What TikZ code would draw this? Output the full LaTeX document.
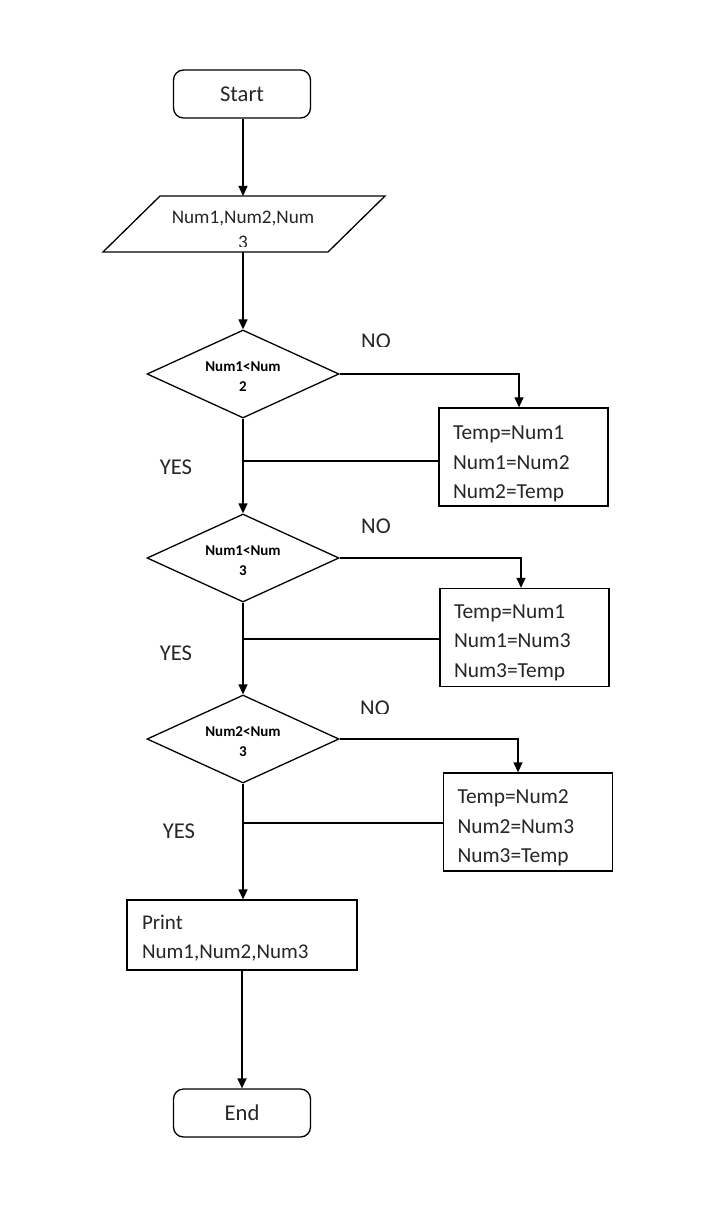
\documentclass[tikz,border=0pt]{standalone}
\usepackage{fontspec}
\setmainfont{Carlito}
\usetikzlibrary{shapes.geometric,arrows.meta}
\begin{document}
\begin{tikzpicture}[x=0.5pt,y=-0.5pt,
  line width=0.65pt,
  every node/.append style={text=black!85},
  term/.style={draw, rounded corners=5pt, minimum width=68.5pt, minimum height=24pt, font=\fontsize{11.3}{13}\selectfont},
  dec/.style={draw, diamond, minimum width=96pt, minimum height=44pt, inner sep=0pt, shape aspect=2.2},
  dtext/.style={inner sep=0pt, align=center, text=black, font=\bfseries\fontsize{7.5}{10}\selectfont},
  proc/.style={draw, rectangle, minimum width=84.5pt, minimum height=49pt},
  ptext/.style={anchor=west, inner sep=0pt, align=left, font=\fontsize{10.7}{14.75}\selectfont},
  lbl/.style={font=\fontsize{11.3}{13}\selectfont},
  arr/.style={-{Triangle[length=5pt,width=4.5pt]}}
]
\fill[white] (0,0) rectangle (720,1229);
\useasboundingbox (0,0) rectangle (720,1229);

% terminals
\node[term] (start) at (242,94) {Start};
\node[term] (end) at (242,1113) {End};

% input parallelogram
\draw (160,196) -- (385,196) -- (328,252) -- (103,252) -- cycle;
\coordinate (inT) at (243,196);
\coordinate (inB) at (243,252);
\node[font=\fontsize{9.6}{12}\selectfont] (intext) at (243,219) {Num1,Num2,Num};
\begin{scope}
  \clip (200,230) rectangle (290,247);
  \node[font=\fontsize{9.6}{12}\selectfont] (intext3) at (243,242) {3};
\end{scope}

% decisions
\node[dec] (d1) at (243,374) {};
\node[dtext] (d1t) at (243,377) {Num1<Num\\2};
\node[dec] (d2) at (243,558) {};
\node[dtext] (d2t) at (243,561) {Num1<Num\\3};
\node[dec] (d3) at (243,739) {};
\node[dtext] (d3t) at (243,742) {Num2<Num\\3};

% processes
\node[proc] (b1) at (523.5,457) {};
\node[ptext] (b1t) at ([xshift=7pt,yshift=-3.5pt]b1.west) {Temp=Num1\\Num1=Num2\\Num2=Temp};
\node[proc] (b2) at (524.5,637.5) {};
\node[ptext] (b2t) at ([xshift=7pt,yshift=-2.5pt]b2.west) {Temp=Num1\\Num1=Num3\\Num3=Temp};
\node[proc] (b3) at (528,822) {};
\node[ptext] (b3t) at ([xshift=7pt,yshift=-3pt]b3.west) {Temp=Num2\\Num2=Num3\\Num3=Temp};

\node[draw, rectangle, minimum width=115pt, minimum height=35pt] (pr) at (242,935) {};
\node[ptext, font=\fontsize{10.5}{14.5}\selectfont] (prt) at ([xshift=7.5pt,yshift=-1.5pt]pr.west) {Print\\Num1,Num2,Num3};

% labels
\begin{scope}
  \clip (340,320) rectangle (420,346.5);
  \node[lbl] (no1) at (376,341) {NO};
\end{scope}
\begin{scope}
  \clip (340,505) rectangle (420,532);
  \node[lbl] (no2) at (376,526) {NO};
\end{scope}
\begin{scope}
  \clip (340,686) rectangle (420,713);
  \node[lbl] (no3) at (375,708) {NO};
\end{scope}
\node[lbl] (yes1) at (176,467) {YES};
\node[lbl] (yes2) at (176,653) {YES};
\node[lbl] (yes3) at (179,831) {YES};

% connectors
\draw[arr] (start.south -| inT) -- (inT);
\draw[arr] (inB) -- (d1.north);
\draw[arr] (d1.south) -- (d2.north);
\draw[arr] (d2.south) -- (d3.north);
\draw[arr] (d3.south) -- (pr.north -| d3.south);
\draw[arr] (pr.south) -- (end.north);

\draw[arr] (d1.east) -| ([xshift=-2.25pt]b1.north);
\draw[arr] (d2.east) -| ([xshift=-1.75pt]b2.north);
\draw[arr] (d3.east) -| ([xshift=-5pt]b3.north);

\draw ([yshift=-2pt]b1.west) -- ([yshift=-2pt]b1.west -| d1.south);
\draw ([yshift=-0.75pt]b2.west) -- ([yshift=-0.75pt]b2.west -| d2.south);
\draw ([yshift=-0.5pt]b3.west) -- ([yshift=-0.5pt]b3.west -| d3.south);
\end{tikzpicture}
\end{document}
